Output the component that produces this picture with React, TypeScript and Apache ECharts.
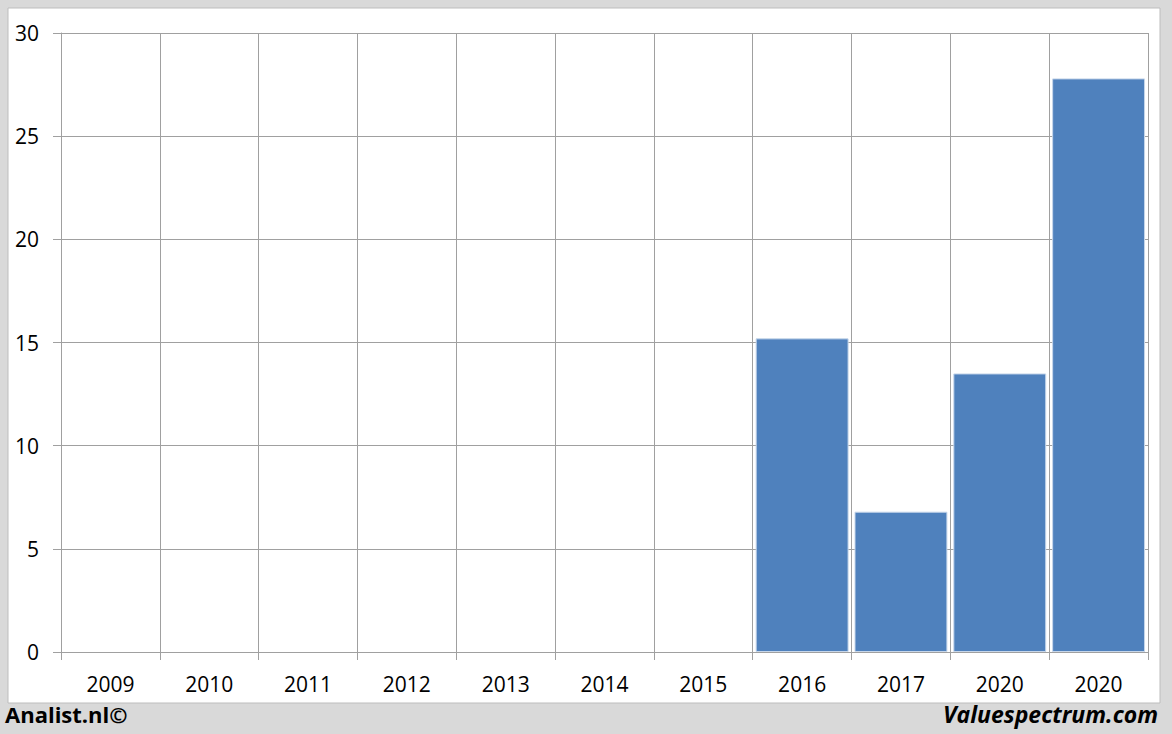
import React, { useEffect, useRef } from "react";
import * as echarts from "echarts";

const categories = ["2009", "2010", "2011", "2012", "2013", "2014", "2015", "2016", "2017", "2020", "2020"];
const values: (number | null)[] = [null, null, null, null, null, null, null, 15.2, 6.8, 13.5, 27.8];
const yTicks = { min: 0, max: 30, interval: 5 };

export default function App() {
  const ref = useRef<HTMLDivElement>(null);
  useEffect(() => {
    if (!ref.current) return;
    const chart = echarts.init(ref.current, undefined, { renderer: "svg" });
    const gridColor = "#a0a0a0";
    chart.setOption({
      animation: false,
      backgroundColor: "#d9d9d9",
      graphic: [
        {
          type: "rect",
          shape: { x: 8, y: 8, width: 1152, height: 695 },
          style: { fill: "#ffffff", stroke: "#bdbdbd", lineWidth: 1 },
          z: -10,
        },
        {
          type: "text",
          left: 5,
          top: 703,
          style: { text: "Analist.nl©", font: "bold 22px 'Open Sans', sans-serif", fill: "#000" },
        },
        {
          type: "text",
          right: 14,
          top: 702,
          style: { text: "Valuespectrum.com", font: "italic bold 23px 'Open Sans', sans-serif", fill: "#000" },
        },
      ],
      grid: { left: 61, top: 33, width: 1087, height: 619, containLabel: false },
      xAxis: {
        type: "category",
        data: categories,
        boundaryGap: true,
        axisLine: { show: true, lineStyle: { color: gridColor } },
        axisTick: { show: true, length: 8, lineStyle: { color: gridColor } },
        splitLine: { show: true, lineStyle: { color: gridColor, width: 1 } },
        axisLabel: { color: "#000", fontSize: 21, fontFamily: "'Open Sans', sans-serif", margin: 21, interval: 0 },
      },
      yAxis: {
        type: "value",
        min: yTicks.min,
        max: yTicks.max,
        interval: yTicks.interval,
        axisLine: { show: true, lineStyle: { color: gridColor } },
        axisTick: { show: true, length: 8, lineStyle: { color: gridColor } },
        splitLine: { show: true, lineStyle: { color: gridColor, width: 1 } },
        axisLabel: { color: "#000", fontSize: 21, fontFamily: "'Open Sans', sans-serif", margin: 22 },
      },
      series: [
        {
          type: "bar",
          data: values,
          barCategoryGap: "6%",
          itemStyle: { color: "#4f81bd", borderColor: "#c6d6ea", borderWidth: 1 },
        },
      ],
    });
    return () => chart.dispose();
  }, []);
  return (
    <div
      ref={ref}
      style={{ position: "fixed", left: 0, top: 0, width: 1172, height: 734 }}
    />
  );
}
